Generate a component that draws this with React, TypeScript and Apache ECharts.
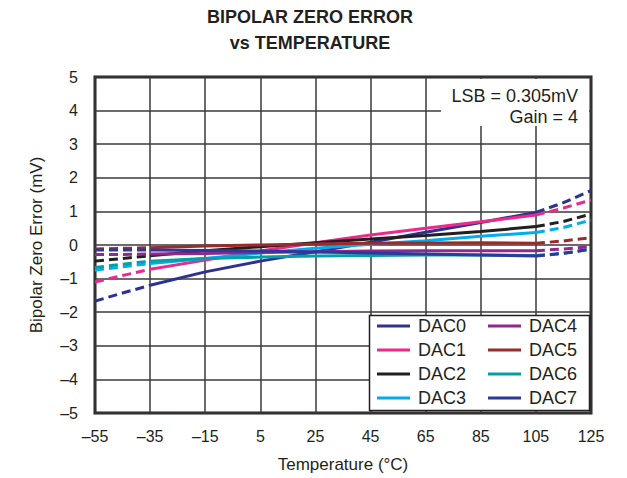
import React, { useEffect, useRef } from "react";
import * as echarts from "echarts";

// Temperature points (°C)
const temps = [-55, -45, -35, -15, 5, 25, 45, 65, 85, 105, 115, 125];
const xTicks = [-55, -35, -15, 5, 25, 45, 65, 85, 105, 125];
const yTicks = [-5, -4, -3, -2, -1, 0, 1, 2, 3, 4, 5];

const dac0 = [-1.67, -1.43, -1.2, -0.8, -0.48, -0.2, 0.08, 0.38, 0.67, 0.97, 1.26, 1.62];
const dac1 = [-1.1, -0.91, -0.72, -0.45, -0.18, 0.07, 0.3, 0.5, 0.69, 0.89, 1.1, 1.34];
const dac2 = [-0.48, -0.4, -0.32, -0.17, -0.05, 0.07, 0.18, 0.28, 0.4, 0.55, 0.7, 0.92];
const dac3 = [-0.75, -0.65, -0.55, -0.4, -0.24, -0.1, 0.02, 0.13, 0.26, 0.37, 0.52, 0.74];
const dac4 = [-0.28, -0.28, -0.27, -0.25, -0.22, -0.2, -0.18, -0.17, -0.17, -0.17, -0.12, -0.05];
const dac5 = [-0.12, -0.1, -0.08, -0.03, 0.0, 0.03, 0.05, 0.06, 0.07, 0.05, 0.12, 0.22];
const dac6 = [-0.67, -0.57, -0.48, -0.4, -0.36, -0.33, -0.31, -0.3, -0.3, -0.31, -0.25, -0.12];
const dac7 = [-0.15, -0.15, -0.15, -0.16, -0.18, -0.21, -0.24, -0.27, -0.3, -0.33, -0.25, -0.12];

const names = ["DAC0", "DAC1", "DAC2", "DAC3", "DAC4", "DAC5", "DAC6", "DAC7"];
const values = [dac0, dac1, dac2, dac3, dac4, dac5, dac6, dac7];
const colors = ["#2E3192", "#EC2A8C", "#231F20", "#00AEEF", "#92278F", "#9B2A2A", "#00A0A8", "#2B3A9A"];

const X_OFFSET = 55; // axis runs 0..180 internally so ticks start at a multiple of 20
const FONT = "'Liberation Sans', Arial, Helvetica, sans-serif";
const TXT = "#231F20";

function dash(v: number) {
  return String(v).replace("-", "\u2013");
}

export default function App() {
  const ref = useRef<HTMLDivElement>(null);

  useEffect(() => {
    if (!ref.current) return;
    const chart = echarts.init(ref.current, undefined, { renderer: "svg" });

    const series: any[] = [];
    values.forEach((vals, i) => {
      const pts = temps.map((t, j) => [t + X_OFFSET, vals[j]]);
      const left = pts.filter((p) => p[0] - X_OFFSET <= -35);
      const mid = pts.filter((p) => p[0] - X_OFFSET >= -35 && p[0] - X_OFFSET <= 105);
      const right = pts.filter((p) => p[0] - X_OFFSET >= 105);
      const base = {
        type: "line",
        name: names[i],
        symbol: "none",
        color: colors[i],
        z: 3,
      };
      series.push({ ...base, data: left, lineStyle: { width: 3, color: colors[i], type: [9, 5] } });
      series.push({ ...base, data: mid, lineStyle: { width: 3, color: colors[i], type: "solid" } });
      series.push({ ...base, data: right, lineStyle: { width: 3, color: colors[i], type: [9, 5] } });
    });

    const legendCommon = {
      orient: "vertical",
      icon: "rect",
      itemWidth: 33,
      itemHeight: 3,
      itemGap: 6,
      selectedMode: false,
      z: 20,
      padding: 0,
      textStyle: { fontFamily: FONT, fontSize: 18, color: TXT, lineHeight: 18, padding: [0, 0, 0, 3] },
    };

    chart.setOption({
      animation: false,
      grid: {
        left: 95,
        right: 36,
        top: 77,
        bottom: 65,
        show: true,
        borderColor: TXT,
        borderWidth: 3,
        backgroundColor: "transparent",
      },
      xAxis: {
        type: "value",
        min: xTicks[0] + X_OFFSET,
        max: xTicks[xTicks.length - 1] + X_OFFSET,
        interval: 20,
        axisLine: { show: false },
        axisTick: { show: false },
        splitLine: { show: true, lineStyle: { color: "#3a3a3a", width: 1.5 } },
        axisLabel: {
          margin: 15,
          fontFamily: FONT,
          fontSize: 16,
          color: TXT,
          formatter: (v: number) => dash(v - X_OFFSET),
        },
        name: "Temperature (\u00B0C)",
        nameLocation: "middle",
        nameGap: 43,
        nameTextStyle: { fontFamily: FONT, fontSize: 17, color: TXT },
      },
      yAxis: {
        type: "value",
        min: yTicks[0],
        max: yTicks[yTicks.length - 1],
        interval: 1,
        axisLine: { show: false },
        axisTick: { show: false },
        splitLine: { show: true, lineStyle: { color: "#3a3a3a", width: 1.5 } },
        axisLabel: {
          margin: 17,
          fontFamily: FONT,
          fontSize: 16,
          color: TXT,
          formatter: (v: number) => dash(v),
        },
        name: "Bipolar Zero Error (mV)",
        nameLocation: "middle",
        nameGap: 50,
        nameTextStyle: { fontFamily: FONT, fontSize: 17, color: TXT },
      },
      legend: [
        { ...legendCommon, data: names.slice(0, 4), left: 377, top: 317 },
        { ...legendCommon, data: names.slice(4, 8), left: 488, top: 317 },
      ],
      graphic: [
        {
          type: "text",
          x: 310,
          y: 17,
          z: 30,
          style: {
            text: "BIPOLAR ZERO ERROR",
            fontFamily: FONT,
            fontSize: 18,
            fontWeight: "bold",
            fill: TXT,
            align: "center",
            verticalAlign: "middle",
          },
        },
        {
          type: "text",
          x: 310,
          y: 43,
          z: 30,
          style: {
            text: "vs TEMPERATURE",
            fontFamily: FONT,
            fontSize: 18,
            fontWeight: "bold",
            fill: TXT,
            align: "center",
            verticalAlign: "middle",
          },
        },
        {
          type: "rect",
          z: 10,
          shape: { x: 441, y: 79, width: 148, height: 47 },
          style: { fill: "#ffffff", stroke: "none" },
        },
        {
          type: "text",
          x: 578,
          y: 96,
          z: 11,
          style: {
            text: "LSB = 0.305mV",
            fontFamily: FONT,
            fontSize: 18,
            fill: TXT,
            align: "right",
            verticalAlign: "middle",
          },
        },
        {
          type: "text",
          x: 578,
          y: 117,
          z: 11,
          style: {
            text: "Gain = 4",
            fontFamily: FONT,
            fontSize: 18,
            fill: TXT,
            align: "right",
            verticalAlign: "middle",
          },
        },
        {
          type: "rect",
          z: 10,
          shape: { x: 369.5, y: 315.5, width: 220, height: 95 },
          style: { fill: "#ffffff", stroke: TXT, lineWidth: 1.5 },
        },
      ],
      series,
    });

    return () => chart.dispose();
  }, []);

  return (
    <div
      ref={ref}
      style={{ position: "absolute", left: 0, top: 0, width: 627, height: 478, background: "#ffffff" }}
    />
  );
}
